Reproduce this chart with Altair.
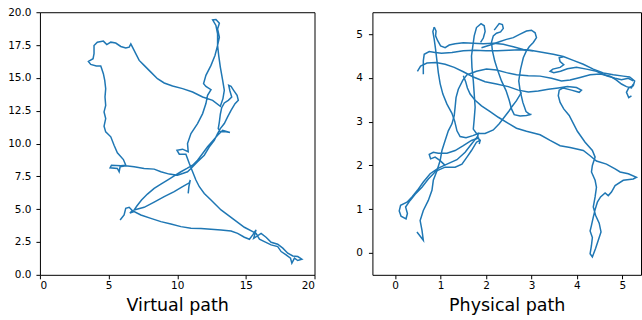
import altair as alt
import pandas as pd

# ---------------- Virtual path (left panel), one continuous walk ----------------
v_start = [(5.84, 4.18), (6.13, 4.56), (6.25, 5.06), (6.50, 5.14), (6.74, 4.89), (6.55, 4.70), (6.86, 4.81)]
v_south = [(7.35, 4.56), (8.08, 4.30), (8.81, 4.05), (9.54, 3.87), (10.27, 3.67), (11.00, 3.54), (11.73, 3.52),
           (12.46, 3.47), (13.19, 3.42), (13.92, 3.34), (14.40, 3.16), (14.89, 2.86), (15.26, 2.71), (15.50, 3.04),
           (15.74, 3.42), (15.57, 2.78), (16.11, 3.16), (16.47, 2.86), (16.84, 2.48), (17.32, 2.33), (17.69, 2.03),
           (18.05, 1.65), (18.42, 1.44), (18.78, 1.39), (19.08, 1.19), (18.78, 1.09), (18.54, 1.27), (18.35, 0.89),
           (18.25, 1.27), (17.93, 1.52), (17.57, 1.77), (17.32, 2.15), (16.84, 2.28), (16.35, 2.53), (15.99, 2.71),
           (15.74, 3.16), (15.50, 3.29)]
v_diag = [(14.89, 3.62), (13.92, 4.38), (13.19, 4.94), (12.46, 5.70), (11.97, 6.20), (11.61, 6.71), (11.36, 7.22),
          (11.12, 7.85), (10.88, 8.48), (10.63, 9.19), (10.15, 9.19), (9.98, 9.49), (10.39, 9.57), (10.80, 9.37),
          (10.75, 10.00), (11.00, 10.76), (11.48, 11.52), (11.85, 12.28), (12.09, 13.04), (12.21, 13.67),
          (12.46, 14.10), (12.09, 14.35), (11.92, 14.56), (12.09, 15.19), (12.46, 15.95), (12.75, 16.71),
          (12.94, 17.47), (12.94, 18.35), (12.82, 18.99), (12.58, 19.42), (12.82, 19.44), (13.07, 19.16),
          (12.94, 18.73), (13.07, 18.10), (12.94, 17.47), (13.02, 16.71), (13.14, 15.82), (13.31, 14.81),
          (13.43, 14.05), (13.33, 13.42), (13.14, 12.84)]
v_loop = [(12.58, 13.29), (11.85, 13.54), (11.12, 13.92), (10.39, 14.18), (9.66, 14.38), (9.05, 14.61), (8.56, 14.94),
          (8.08, 15.44), (7.59, 15.95), (7.23, 16.33), (6.98, 16.84), (6.74, 17.34), (6.62, 17.59), (6.50, 17.34),
          (6.25, 17.27), (5.89, 17.39), (5.52, 17.65), (5.16, 17.72), (4.87, 17.54), (4.62, 17.80), (4.18, 17.72),
          (3.94, 17.47), (3.94, 16.84), (3.87, 16.46), (3.53, 16.25), (3.70, 16.03), (4.11, 15.90), (4.43, 15.90),
          (4.50, 15.70), (4.62, 15.32), (4.72, 14.81), (4.79, 14.18), (4.74, 13.54), (4.79, 12.91), (4.67, 12.41),
          (4.79, 11.90), (4.67, 11.32), (4.79, 10.89), (5.16, 10.51), (5.40, 9.87), (5.64, 9.29), (6.08, 8.78),
          (6.25, 8.35), (5.89, 8.30), (5.21, 8.35), (5.11, 8.15), (5.64, 8.10), (5.77, 7.85), (5.84, 8.23),
          (6.25, 8.30), (6.86, 8.23), (7.59, 8.10), (8.32, 8.05), (8.81, 7.85), (9.42, 7.67), (10.02, 7.59),
          (10.39, 7.72), (10.75, 7.85)]
v_north = [(11.00, 8.10), (11.48, 8.61), (11.97, 9.11), (12.34, 9.75), (12.70, 10.25), (12.94, 10.76), (13.14, 11.14),
           (13.43, 11.52), (13.67, 12.03), (13.92, 12.53), (14.21, 13.04), (14.45, 13.29), (14.36, 13.67),
           (14.11, 14.05), (13.92, 14.35), (13.75, 14.43), (13.84, 14.00), (13.97, 13.54), (13.72, 13.29),
           (13.43, 13.09), (13.24, 12.73), (13.14, 12.23), (13.07, 11.65), (12.99, 11.14), (13.14, 10.89),
           (13.55, 10.89), (13.84, 10.84)]
v_back = [(13.31, 11.01), (12.94, 10.63), (12.58, 10.20), (12.21, 9.75), (11.85, 9.24), (11.48, 8.73), (11.12, 8.35),
          (10.71, 8.10), (10.27, 7.85), (9.78, 7.54), (9.29, 7.22), (8.81, 6.91), (8.32, 6.58), (7.83, 6.15),
          (7.40, 5.70), (7.06, 5.24), (6.86, 4.94)]
v_end = [(7.59, 5.14), (8.32, 5.54), (9.05, 5.95), (9.78, 6.33), (10.39, 6.71), (10.88, 7.01), (10.95, 7.22),
         (10.85, 6.71), (10.80, 6.20)]
virtual_segments = [v_start, v_south, v_diag, v_loop, v_north, v_back, v_end]

# ---------------- Physical path (right panel), traced strokes ----------------
p_band = [(0.49, 4.15), (0.56, 4.27), (0.70, 4.34), (0.90, 4.35), (1.10, 4.31), (1.30, 4.24), (1.50, 4.14),
          (1.72, 4.02), (1.98, 3.91), (2.23, 3.86), (2.49, 3.80), (2.71, 3.72), (2.93, 3.68), (3.15, 3.70),
          (3.37, 3.74), (3.59, 3.77), (3.79, 3.80), (3.99, 3.78), (4.10, 3.72), (4.05, 3.67), (3.88, 3.72),
          (3.70, 3.77), (3.61, 3.72), (3.59, 3.59), (3.63, 3.44), (3.71, 3.29), (3.83, 3.14), (3.92, 2.96),
          (4.01, 2.78), (4.18, 2.53), (4.34, 2.34), (4.40, 2.19), (4.34, 2.00), (4.32, 1.85), (4.40, 1.66),
          (4.43, 1.50), (4.40, 1.28), (4.36, 1.05), (4.41, 0.86), (4.49, 0.68), (4.53, 0.48), (4.47, 0.29),
          (4.41, 0.10), (4.34, -0.09), (4.29, -0.02), (4.32, 0.17), (4.34, 0.35), (4.29, 0.50), (4.32, 0.63),
          (4.36, 0.82), (4.40, 0.99), (4.45, 1.16), (4.52, 1.28), (4.62, 1.37), (4.69, 1.31), (4.76, 1.39),
          (4.84, 1.54), (5.02, 1.66), (5.24, 1.69), (5.31, 1.73), (5.13, 1.81), (4.95, 1.85), (4.84, 1.92),
          (4.65, 2.03), (4.43, 2.10), (4.29, 2.22), (4.14, 2.34), (3.85, 2.41), (3.63, 2.45), (3.41, 2.57),
          (3.19, 2.70), (2.89, 2.78), (2.67, 2.85), (2.49, 2.96), (2.27, 3.10), (2.09, 3.23), (1.90, 3.36),
          (1.76, 3.49), (1.65, 3.63), (1.59, 3.77), (1.55, 3.92), (1.50, 4.05)]
p_top = [(0.86, 5.16), (0.90, 5.07), (0.89, 4.96), (0.93, 4.86), (1.00, 4.73), (1.10, 4.69), (1.19, 4.75),
         (1.32, 4.78), (1.50, 4.80), (1.72, 4.79), (1.94, 4.78), (2.16, 4.79), (2.38, 4.77), (2.60, 4.71),
         (2.82, 4.65), (3.04, 4.62), (3.26, 4.58), (3.48, 4.54), (3.70, 4.49), (3.92, 4.40), (4.14, 4.31),
         (4.36, 4.20), (4.58, 4.11), (4.80, 4.07), (5.02, 4.04), (5.16, 4.02), (5.27, 3.93), (5.24, 3.82),
         (5.14, 3.77), (5.09, 3.67), (5.14, 3.55), (5.20, 3.59)]
p_arm = [(3.70, 4.48), (3.61, 4.46), (3.63, 4.37), (3.71, 4.30), (3.63, 4.24), (3.47, 4.20), (3.41, 4.15),
         (3.49, 4.12), (3.64, 4.15), (3.79, 4.21), (3.99, 4.24), (4.21, 4.20), (4.43, 4.15), (4.65, 4.05),
         (4.84, 3.99), (4.98, 3.96), (5.13, 3.99), (5.24, 3.93)]
p_left_loop = [(0.86, 5.16), (0.83, 5.06), (0.86, 4.88), (0.89, 4.65), (0.92, 4.39), (0.95, 4.12), (0.99, 3.87),
               (1.05, 3.63), (1.14, 3.40), (1.25, 3.19), (1.31, 3.01), (1.36, 2.79), (1.43, 2.66), (1.56, 2.63),
               (1.71, 2.68), (1.83, 2.73), (1.81, 2.64), (1.87, 2.57), (1.85, 2.49)]
p_column = [(1.88, 4.81), (1.94, 4.91), (1.98, 5.06), (1.96, 5.19), (1.89, 5.24), (1.79, 5.15), (1.74, 4.96),
            (1.71, 4.73), (1.68, 4.50), (1.69, 4.24), (1.72, 3.93), (1.74, 3.63), (1.76, 3.33), (1.74, 3.06),
            (1.72, 2.83), (1.79, 2.73), (1.98, 2.73), (2.16, 2.81), (2.29, 2.95), (2.40, 3.10), (2.51, 3.25),
            (2.56, 3.33), (2.67, 3.48), (2.78, 3.67)]
p_twin = [(2.18, 5.09), (2.23, 5.16), (2.29, 5.24), (2.36, 5.22), (2.38, 5.13), (2.32, 5.05), (2.23, 5.02),
          (2.16, 4.96), (2.12, 4.81), (2.14, 4.62), (2.19, 4.39), (2.26, 4.16), (2.34, 3.93), (2.44, 3.71),
          (2.51, 3.49), (2.56, 3.29), (2.62, 3.16), (2.75, 3.13), (2.89, 3.14), (3.00, 3.17)]
p_hook3 = [(1.90, 4.69), (2.09, 4.75), (2.31, 4.83), (2.45, 4.88), (2.60, 4.92), (2.75, 5.00), (2.89, 5.07),
           (3.00, 5.09), (3.08, 5.03), (3.11, 4.92), (3.04, 4.81), (2.95, 4.71), (2.88, 4.60), (2.82, 4.46),
           (2.76, 4.20), (2.72, 3.93), (2.75, 3.71), (2.81, 3.44), (2.88, 3.23), (2.97, 3.16)]
p_mid = [(0.62, 4.08), (0.62, 4.39), (0.64, 4.54), (0.75, 4.60), (0.88, 4.58), (1.02, 4.56), (1.25, 4.58),
         (1.50, 4.62), (1.75, 4.63), (2.00, 4.62), (2.25, 4.62), (2.50, 4.63), (2.75, 4.64), (3.04, 4.62)]
p_tail_loop = [(1.83, 2.68), (1.68, 2.49), (1.54, 2.30), (1.36, 2.13), (1.14, 2.03), (0.95, 1.94), (0.77, 1.81),
               (0.62, 1.62), (0.49, 1.43), (0.37, 1.28), (0.26, 1.16), (0.12, 1.09), (0.09, 0.96), (0.13, 0.84),
               (0.24, 0.78), (0.27, 0.90), (0.23, 1.05), (0.33, 1.20), (0.44, 1.34), (0.59, 1.50), (0.73, 1.69),
               (0.90, 1.87), (1.10, 1.96), (1.32, 1.96), (1.47, 2.03), (1.58, 2.19), (1.68, 2.34), (1.79, 2.53),
               (1.88, 2.58)]
p_wing = [(1.85, 2.63), (1.68, 2.57), (1.50, 2.45), (1.32, 2.34), (1.14, 2.28), (0.95, 2.28), (0.84, 2.30),
          (0.75, 2.25), (0.78, 2.15), (0.88, 2.19), (0.99, 2.11), (1.10, 2.00)]
p_tail = [(0.48, 0.48), (0.62, 0.29), (0.59, 0.52), (0.55, 0.74), (0.62, 0.97), (0.73, 1.20), (0.81, 1.43),
          (0.84, 1.66), (0.92, 1.88), (0.99, 2.11), (1.03, 2.34), (1.10, 2.57), (1.17, 2.79), (1.25, 2.95),
          (1.30, 3.14), (1.32, 3.33), (1.34, 3.55), (1.39, 3.74), (1.49, 3.95), (1.58, 4.07), (1.79, 4.15),
          (2.01, 4.20), (2.23, 4.18), (2.45, 4.12), (2.67, 4.07), (2.93, 4.05), (3.19, 4.04), (3.44, 3.99),
          (3.66, 3.93), (3.85, 3.95), (4.07, 4.01), (4.29, 4.07), (4.51, 4.09), (4.73, 4.04), (4.87, 3.95),
          (4.98, 3.86), (5.09, 3.80), (5.20, 3.77), (5.24, 3.86)]
physical_strokes = [p_band, p_top, p_arm, p_left_loop, p_column, p_twin, p_hook3, p_mid, p_tail_loop, p_wing, p_tail]


def to_frame(strokes, joined):
    rows = []
    k = 0
    for s, pts in enumerate(strokes):
        for x, y in pts:
            rows.append({"x": x, "y": y, "seg": 0 if joined else s, "i": k})
            k += 1
    return pd.DataFrame(rows)


vdf = to_frame(virtual_segments, True)
pdf = to_frame(physical_strokes, False)

FONT = "DejaVu Sans"
BLUE = "#1f77b4"
axis_style = dict(domain=False, grid=False, tickSize=4, tickColor="black", tickWidth=1,
                  labelColor="black", labelFontSize=10.5, labelFont=FONT,
                  titleFont=FONT, titleFontSize=17.5, titleFontWeight="normal", titleColor="black")

left = alt.Chart(vdf).mark_line(color=BLUE, strokeWidth=1.5, clip=True).encode(
    x=alt.X("x:Q", scale=alt.Scale(domain=[0, 20], nice=False, zero=False),
            axis=alt.Axis(values=[0, 5, 10, 15, 20], title="Virtual path", labelPadding=2,
                          titlePadding=5, **axis_style)),
    y=alt.Y("y:Q", scale=alt.Scale(domain=[0, 20], nice=False, zero=False),
            axis=alt.Axis(values=[0, 2.5, 5, 7.5, 10, 12.5, 15, 17.5, 20], format=".1f", title=None,
                          labelPadding=5, **axis_style)),
    order="i:Q",
    detail="seg:N",
).properties(width=275, height=263)

right = alt.Chart(pdf).mark_line(color=BLUE, strokeWidth=1.5, clip=True).encode(
    x=alt.X("x:Q", scale=alt.Scale(domain=[-0.5, 5.41], nice=False, zero=False),
            axis=alt.Axis(values=[0, 1, 2, 3, 4, 5], format="d", title="Physical path", labelPadding=2,
                          titlePadding=5, **axis_style)),
    y=alt.Y("y:Q", scale=alt.Scale(domain=[-0.5, 5.5], nice=False, zero=False),
            axis=alt.Axis(values=[0, 1, 2, 3, 4, 5], format="d", title=None, labelPadding=6, **axis_style)),
    order="i:Q",
    detail="seg:N",
).properties(width=269, height=263)

chart = alt.hconcat(left, right, spacing=39).configure_view(
    stroke="black", strokeWidth=1
).properties(padding={"left": 7, "top": 6, "right": 0, "bottom": 0}, background="white")

chart.save("out.html", embed_options={"renderer": "svg", "actions": False})
